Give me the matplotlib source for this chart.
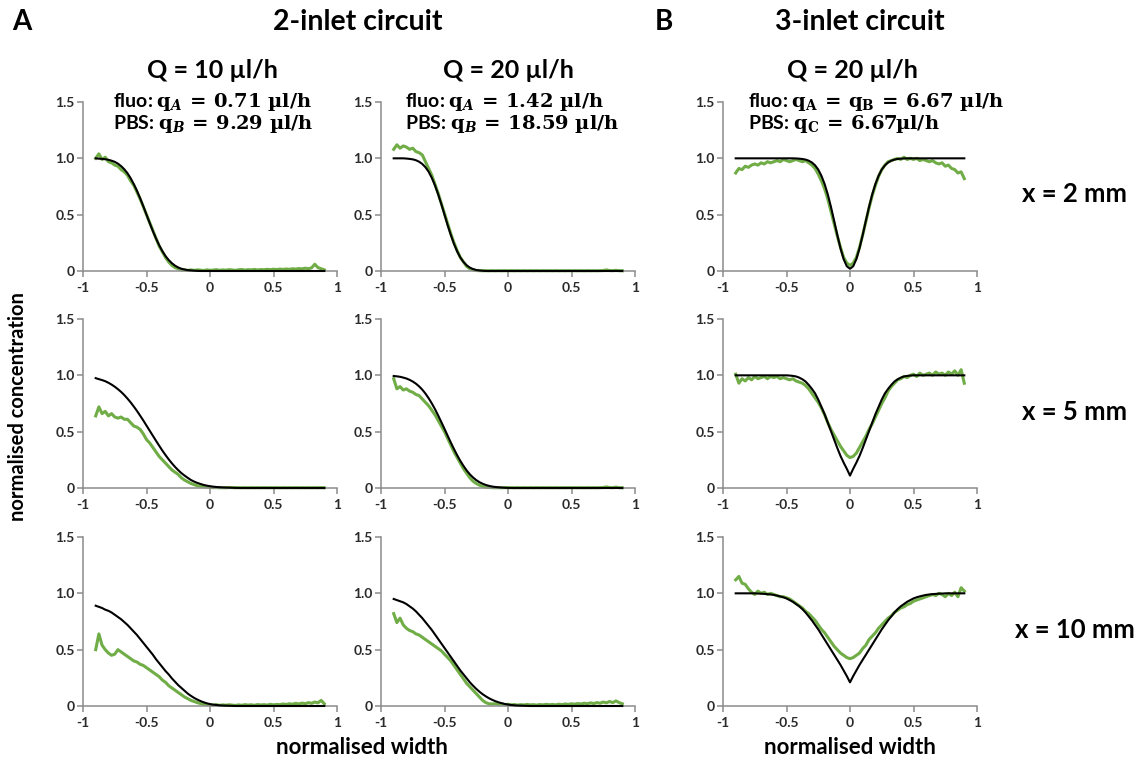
import matplotlib
matplotlib.use("Agg")
import matplotlib.pyplot as plt

plt.rcParams['font.family'] = ['Lato', 'DejaVu Sans']
plt.rcParams['mathtext.fontset'] = 'custom'
plt.rcParams['mathtext.rm'] = 'DejaVu Serif:bold'
plt.rcParams['mathtext.it'] = 'DejaVu Serif:italic:bold'
plt.rcParams['mathtext.bf'] = 'DejaVu Serif:bold'

# ---------------- data ----------------
width = [-0.900, -0.875, -0.850, -0.825, -0.800, -0.775, -0.750, -0.725, -0.700, -0.675,
         -0.650, -0.625, -0.600, -0.575, -0.550, -0.525, -0.500, -0.475, -0.450, -0.425,
         -0.400, -0.375, -0.350, -0.325, -0.300, -0.275, -0.250, -0.225, -0.200, -0.175,
         -0.150, -0.125, -0.100, -0.075, -0.050, -0.025, 0.000, 0.025, 0.050, 0.075,
         0.100, 0.125, 0.150, 0.175, 0.200, 0.225, 0.250, 0.275, 0.300, 0.325,
         0.350, 0.375, 0.400, 0.425, 0.450, 0.475, 0.500, 0.525, 0.550, 0.575,
         0.600, 0.625, 0.650, 0.675, 0.700, 0.725, 0.750, 0.775, 0.800, 0.825,
         0.850, 0.875, 0.900]

# row 1 (x = 2 mm)
model_2in_q10_x2 = [1.000, 0.997, 0.995, 0.992, 0.987, 0.979, 0.969, 0.953, 0.931, 0.903,
                    0.868, 0.824, 0.771, 0.712, 0.645, 0.574, 0.500, 0.426, 0.355, 0.288,
                    0.229, 0.176, 0.132, 0.097, 0.069, 0.047, 0.031, 0.020, 0.013, 0.008,
                    0.005, 0.003, 0.001, 0, 0, 0, 0, 0, 0, 0,
                    0, 0, 0, 0, 0, 0, 0, 0, 0, 0,
                    0, 0, 0, 0, 0, 0, 0, 0, 0, 0,
                    0, 0, 0, 0, 0, 0, 0, 0, 0, 0,
                    0, 0, 0]
meas_2in_q10_x2 = [1.00, 1.04, 0.99, 1.01, 0.97, 0.96, 0.94, 0.93, 0.90, 0.88,
                   0.85, 0.80, 0.76, 0.70, 0.64, 0.57, 0.50, 0.43, 0.36, 0.29,
                   0.22, 0.17, 0.12, 0.08, 0.05, 0.03, 0.02, 0.01, 0.01, 0.005,
                   0.01, 0.005, 0.01, 0.008, 0.004, 0.01, 0.006, 0.008, 0.012, 0.006,
                   0.01, 0.007, 0.012, 0.009, 0.006, 0.011, 0.013, 0.008, 0.012, 0.01,
                   0.014, 0.009, 0.013, 0.011, 0.015, 0.012, 0.016, 0.013, 0.017, 0.014,
                   0.018, 0.015, 0.02, 0.017, 0.022, 0.019, 0.025, 0.02, 0.028, 0.06,
                   0.03, 0.02, 0.01]
model_2in_q20_x2 = [1.0, 1.0, 1.0, 1.0, 0.998, 0.995, 0.991, 0.983, 0.970, 0.950,
                    0.921, 0.881, 0.827, 0.760, 0.681, 0.594, 0.500, 0.406, 0.319, 0.240,
                    0.173, 0.119, 0.079, 0.050, 0.030, 0.017, 0.009, 0.005, 0.002, 0,
                    0, 0, 0, 0, 0, 0, 0, 0, 0, 0,
                    0, 0, 0, 0, 0, 0, 0, 0, 0, 0,
                    0, 0, 0, 0, 0, 0, 0, 0, 0, 0,
                    0, 0, 0, 0, 0, 0, 0, 0, 0, 0,
                    0, 0, 0]
meas_2in_q20_x2 = [1.08, 1.12, 1.09, 1.11, 1.10, 1.08, 1.09, 1.06, 1.05, 1.03,
                   0.97, 0.91, 0.85, 0.77, 0.69, 0.60, 0.51, 0.42, 0.33, 0.25,
                   0.18, 0.12, 0.08, 0.04, 0.02, 0.01, 0.004, 0.003, 0.002, 0.003,
                   0.002, 0.003, 0.002, 0.003, 0.002, 0.003, 0.002, 0.003, 0.002, 0.003,
                   0.002, 0.003, 0.002, 0.003, 0.002, 0.003, 0.002, 0.003, 0.002, 0.003,
                   0.002, 0.003, 0.002, 0.003, 0.002, 0.003, 0.002, 0.003, 0.002, 0.003,
                   0.002, 0.003, 0.002, 0.003, 0.002, 0.003, 0.004, 0.01, 0.004, 0.003,
                   0.006, 0.003, 0.002]
model_3in_q20_x2 = [1.0, 1.0, 1.0, 1.0, 1.0, 1.0, 1.0, 1.0, 1.0, 1.0,
                    1.0, 1.0, 1.0, 1.0, 1.0, 1.0, 1.0, 1.0, 1.0, 0.999,
                    0.997, 0.994, 0.989, 0.979, 0.963, 0.938, 0.900, 0.845, 0.772, 0.680,
                    0.569, 0.446, 0.320, 0.202, 0.105, 0.042, 0.020, 0.042, 0.105, 0.202,
                    0.320, 0.446, 0.569, 0.680, 0.772, 0.845, 0.900, 0.938, 0.963, 0.979,
                    0.989, 0.994, 0.997, 0.999, 1.0, 1.0, 1.0, 1.0, 1.0, 1.0,
                    1.0, 1.0, 1.0, 1.0, 1.0, 1.0, 1.0, 1.0, 1.0, 1.0,
                    1.0, 1.0, 1.0]
meas_3in_q20_x2 = [0.87, 0.91, 0.90, 0.93, 0.92, 0.94, 0.95, 0.94, 0.96, 0.95,
                   0.97, 0.96, 0.97, 0.98, 0.97, 0.99, 0.98, 0.97, 0.98, 0.99,
                   0.98, 0.97, 0.98, 0.96, 0.94, 0.91, 0.86, 0.80, 0.73, 0.64,
                   0.53, 0.42, 0.31, 0.21, 0.12, 0.07, 0.05, 0.07, 0.12, 0.21,
                   0.32, 0.44, 0.56, 0.67, 0.76, 0.84, 0.90, 0.94, 0.97, 0.98,
                   0.99, 1.00, 0.99, 1.01, 0.99, 1.00, 0.99, 1.00, 0.98, 0.99,
                   0.98, 0.97, 0.98, 0.96, 0.95, 0.96, 0.93, 0.94, 0.91, 0.90,
                   0.87, 0.88, 0.82]

# row 2 (x = 5 mm)
model_2in_q10_x5 = [0.975, 0.966, 0.958, 0.948, 0.934, 0.918, 0.899, 0.877, 0.853, 0.825,
                    0.794, 0.760, 0.723, 0.684, 0.642, 0.599, 0.554, 0.509, 0.464, 0.419,
                    0.375, 0.332, 0.292, 0.254, 0.219, 0.187, 0.158, 0.132, 0.110, 0.090,
                    0.071, 0.057, 0.045, 0.036, 0.027, 0.021, 0.016, 0.012, 0.009, 0.007,
                    0.005, 0.004, 0.003, 0.002, 0.001, 0, 0, 0, 0, 0,
                    0, 0, 0, 0, 0, 0, 0, 0, 0, 0,
                    0, 0, 0, 0, 0, 0, 0, 0, 0, 0,
                    0, 0, 0]
meas_2in_q10_x5 = [0.64, 0.72, 0.66, 0.68, 0.64, 0.66, 0.63, 0.62, 0.63, 0.61,
                   0.61, 0.58, 0.55, 0.54, 0.52, 0.48, 0.43, 0.40, 0.36, 0.32,
                   0.28, 0.25, 0.22, 0.19, 0.16, 0.14, 0.12, 0.09, 0.07, 0.055,
                   0.04, 0.03, 0.02, 0.015, 0.01, 0.008, 0.005, 0.003, 0.004, 0.002,
                   0.003, 0.002, 0.004, 0.003, 0.002, 0.003, 0.002, 0.003, 0.002, 0.003,
                   0.002, 0.003, 0.002, 0.003, 0.002, 0.003, 0.002, 0.003, 0.002, 0.003,
                   0.002, 0.003, 0.002, 0.003, 0.002, 0.003, 0.002, 0.003, 0.002, 0.003,
                   0.002, 0.003, 0.002]
model_2in_q20_x5 = [0.994, 0.991, 0.987, 0.980, 0.972, 0.960, 0.945, 0.926, 0.902, 0.873,
                    0.838, 0.797, 0.751, 0.700, 0.644, 0.585, 0.525, 0.463, 0.403, 0.345,
                    0.290, 0.240, 0.195, 0.155, 0.121, 0.093, 0.070, 0.052, 0.038, 0.027,
                    0.019, 0.013, 0.009, 0.006, 0.004, 0.002, 0.001, 0, 0, 0,
                    0, 0, 0, 0, 0, 0, 0, 0, 0, 0,
                    0, 0, 0, 0, 0, 0, 0, 0, 0, 0,
                    0, 0, 0, 0, 0, 0, 0, 0, 0, 0,
                    0, 0, 0]
meas_2in_q20_x5 = [0.97, 0.88, 0.90, 0.87, 0.88, 0.86, 0.85, 0.83, 0.82, 0.79,
                   0.76, 0.73, 0.69, 0.65, 0.60, 0.55, 0.50, 0.44, 0.38, 0.32,
                   0.27, 0.22, 0.17, 0.13, 0.09, 0.06, 0.04, 0.025, 0.015, 0.008,
                   0.005, 0.003, 0.002, 0.003, 0.002, 0.003, 0.002, 0.003, 0.002, 0.003,
                   0.002, 0.003, 0.002, 0.003, 0.002, 0.003, 0.002, 0.003, 0.002, 0.003,
                   0.002, 0.003, 0.002, 0.003, 0.002, 0.003, 0.002, 0.003, 0.002, 0.003,
                   0.002, 0.003, 0.002, 0.003, 0.002, 0.003, 0.004, 0.01, 0.004, 0.003,
                   0.008, 0.003, 0.002]
model_3in_q20_x5 = [1.0, 1.0, 1.0, 1.0, 1.0, 1.0, 1.0, 1.0, 1.0, 1.0,
                    1.0, 1.0, 1.0, 1.0, 1.0, 1.0, 1.0, 0.998, 0.995, 0.99,
                    0.98, 0.965, 0.945, 0.915, 0.88, 0.84, 0.785, 0.72, 0.655, 0.58,
                    0.505, 0.43, 0.355, 0.285, 0.225, 0.17, 0.11, 0.17, 0.225, 0.285,
                    0.355, 0.43, 0.505, 0.58, 0.655, 0.72, 0.785, 0.84, 0.88, 0.915,
                    0.945, 0.965, 0.98, 0.99, 0.995, 0.998, 1.0, 1.0, 1.0, 1.0,
                    1.0, 1.0, 1.0, 1.0, 1.0, 1.0, 1.0, 1.0, 1.0, 1.0,
                    1.0, 1.0, 1.0]
meas_3in_q20_x5 = [1.01, 0.93, 0.97, 0.95, 0.98, 0.96, 0.99, 0.97, 0.98, 0.99,
                   0.97, 0.99, 0.98, 0.99, 0.97, 0.98, 0.97, 0.96, 0.97, 0.95,
                   0.94, 0.93, 0.91, 0.88, 0.84, 0.80, 0.76, 0.71, 0.65, 0.58,
                   0.52, 0.47, 0.42, 0.37, 0.33, 0.29, 0.27, 0.28, 0.31, 0.36,
                   0.41, 0.46, 0.52, 0.57, 0.63, 0.69, 0.75, 0.80, 0.86, 0.90,
                   0.93, 0.96, 0.97, 0.99, 0.98, 1.00, 1.01, 0.99, 1.02, 1.00,
                   1.01, 1.02, 1.00, 1.03, 1.01, 1.02, 1.00, 1.03, 1.01, 1.04,
                   1.00, 1.05, 0.93]

# row 3 (x = 10 mm)
model_2in_q10_x10 = [0.89, 0.88, 0.87, 0.855, 0.845, 0.83, 0.81, 0.79, 0.77, 0.745,
                     0.72, 0.69, 0.66, 0.63, 0.595, 0.56, 0.525, 0.49, 0.455, 0.415,
                     0.38, 0.345, 0.31, 0.28, 0.245, 0.215, 0.185, 0.16, 0.135, 0.11,
                     0.09, 0.072, 0.057, 0.044, 0.033, 0.024, 0.017, 0.012, 0.009, 0.006,
                     0.004, 0.003, 0.002, 0.001, 0, 0, 0, 0, 0, 0,
                     0, 0, 0, 0, 0, 0, 0, 0, 0, 0,
                     0, 0, 0, 0, 0, 0, 0, 0, 0, 0,
                     0, 0, 0]
meas_2in_q10_x10 = [0.50, 0.64, 0.54, 0.50, 0.47, 0.45, 0.46, 0.50, 0.48, 0.46,
                    0.44, 0.42, 0.40, 0.39, 0.37, 0.36, 0.34, 0.32, 0.30, 0.28,
                    0.26, 0.23, 0.21, 0.18, 0.16, 0.14, 0.12, 0.10, 0.08, 0.065,
                    0.05, 0.04, 0.03, 0.022, 0.015, 0.012, 0.01, 0.008, 0.012, 0.006,
                    0.01, 0.007, 0.011, 0.008, 0.005, 0.01, 0.006, 0.012, 0.008, 0.011,
                    0.006, 0.013, 0.009, 0.012, 0.008, 0.015, 0.01, 0.014, 0.012, 0.018,
                    0.014, 0.02, 0.016, 0.024, 0.018, 0.026, 0.02, 0.03, 0.024, 0.035,
                    0.028, 0.05, 0.02]
model_2in_q20_x10 = [0.95, 0.94, 0.93, 0.92, 0.905, 0.885, 0.865, 0.84, 0.81, 0.78,
                     0.745, 0.71, 0.675, 0.635, 0.595, 0.555, 0.515, 0.475, 0.435, 0.395,
                     0.355, 0.315, 0.28, 0.245, 0.21, 0.18, 0.152, 0.127, 0.105, 0.086,
                     0.069, 0.055, 0.043, 0.033, 0.025, 0.018, 0.013, 0.009, 0.006, 0.004,
                     0.003, 0.002, 0.001, 0, 0, 0, 0, 0, 0, 0,
                     0, 0, 0, 0, 0, 0, 0, 0, 0, 0,
                     0, 0, 0, 0, 0, 0, 0, 0, 0, 0,
                     0, 0, 0]
meas_2in_q20_x10 = [0.82, 0.74, 0.78, 0.72, 0.69, 0.67, 0.66, 0.64, 0.63, 0.61,
                    0.59, 0.57, 0.55, 0.53, 0.51, 0.49, 0.46, 0.43, 0.40, 0.36,
                    0.32, 0.28, 0.24, 0.20, 0.17, 0.14, 0.11, 0.08, 0.05, 0.03,
                    0.02, 0.018, 0.02, 0.015, 0.018, 0.012, 0.015, 0.01, 0.013, 0.008,
                    0.012, 0.009, 0.014, 0.01, 0.012, 0.008, 0.013, 0.01, 0.015, 0.011,
                    0.014, 0.01, 0.016, 0.012, 0.018, 0.014, 0.02, 0.016, 0.022, 0.018,
                    0.025, 0.02, 0.028, 0.022, 0.03, 0.025, 0.035, 0.028, 0.04, 0.03,
                    0.045, 0.03, 0.02]
model_3in_q20_x10 = [1.0, 1.0, 1.0, 1.0, 1.0, 1.0, 1.0, 0.998, 0.997, 0.995,
                     0.993, 0.99, 0.986, 0.98, 0.973, 0.965, 0.955, 0.94, 0.925, 0.905,
                     0.885, 0.86, 0.83, 0.795, 0.76, 0.72, 0.68, 0.635, 0.59, 0.545,
                     0.50, 0.455, 0.41, 0.365, 0.315, 0.265, 0.21, 0.265, 0.315, 0.365,
                     0.41, 0.455, 0.50, 0.545, 0.59, 0.635, 0.68, 0.72, 0.76, 0.795,
                     0.83, 0.86, 0.885, 0.905, 0.925, 0.94, 0.955, 0.965, 0.973, 0.98,
                     0.986, 0.99, 0.993, 0.995, 0.997, 0.998, 1.0, 1.0, 1.0, 1.0,
                     1.0, 1.0, 1.0]
meas_3in_q20_x10 = [1.12, 1.15, 1.09, 1.08, 1.04, 1.01, 0.99, 1.02, 1.00, 1.01,
                    0.99, 1.00, 0.99, 0.98, 0.97, 0.97, 0.96, 0.95, 0.93, 0.91,
                    0.89, 0.87, 0.84, 0.82, 0.79, 0.76, 0.72, 0.68, 0.65, 0.61,
                    0.57, 0.53, 0.50, 0.47, 0.45, 0.43, 0.42, 0.43, 0.45, 0.47,
                    0.51, 0.54, 0.59, 0.62, 0.65, 0.69, 0.72, 0.75, 0.78, 0.80,
                    0.83, 0.85, 0.87, 0.88, 0.90, 0.91, 0.93, 0.94, 0.95, 0.96,
                    0.97, 0.98, 0.99, 0.98, 1.00, 0.99, 0.97, 1.00, 0.98, 1.01,
                    0.97, 1.05, 1.02]

x_ticks = [-1, -0.5, 0, 0.5, 1]
x_tick_labels = ['-1', '-0.5', '0', '0.5', '1']
y_ticks = [0, 0.5, 1.0, 1.5]
y_tick_labels = ['0', '0.5', '1.0', '1.5']

models = [[model_2in_q10_x2, model_2in_q20_x2, model_3in_q20_x2],
          [model_2in_q10_x5, model_2in_q20_x5, model_3in_q20_x5],
          [model_2in_q10_x10, model_2in_q20_x10, model_3in_q20_x10]]
measured = [[meas_2in_q10_x2, meas_2in_q20_x2, meas_3in_q20_x2],
            [meas_2in_q10_x5, meas_2in_q20_x5, meas_3in_q20_x5],
            [meas_2in_q10_x10, meas_2in_q20_x10, meas_3in_q20_x10]]

row_labels = ['x = 2 mm', 'x = 5 mm', 'x = 10 mm']
col_titles = ['Q = 10 µl/h', 'Q = 20 µl/h', 'Q = 20 µl/h']
flow_line1 = [r'fluo: $\mathrm{q}_{A}\,=\,\mathrm{0.71\ µl/h}$',
              r'fluo: $\mathrm{q}_{A}\,=\,\mathrm{1.42\ µl/h}$',
              r'fluo: $\mathrm{q_{A}}\,=\,\mathrm{q_{B}}\,=\,\mathrm{6.67\ µl/h}$']
flow_line2 = [r'PBS: $\mathrm{q}_{B}\,=\,\mathrm{9.29\ µl/h}$',
              r'PBS: $\mathrm{q}_{B}\,=\,\mathrm{18.59\ µl/h}$',
              r'PBS: $\mathrm{q_{C}}\,=\,\mathrm{6.67µl/h}$']

# ---------------- layout ----------------
W, H = 1141, 762
fig = plt.figure(figsize=(W / 100, H / 100), dpi=100)
fig.patch.set_facecolor('white')

col_left = [83, 381, 723]
col_width = 254
row_top = [102, 319, 537]
row_height = 169

GREEN = '#70ad47'
GRAY = '#8c8c8c'


def fx(px):
    return px / W


def fy(py):
    return 1 - py / H


for r in range(3):
    for c in range(3):
        ax = fig.add_axes([fx(col_left[c]), fy(row_top[r] + row_height),
                           col_width / W, row_height / H])
        ax.plot(width, measured[r][c], color=GREEN, lw=2.2, zorder=2, clip_on=False)
        ax.plot(width, models[r][c], color='black', lw=1.5, zorder=3, clip_on=False)
        ax.set_xlim(-1, 1)
        ax.set_ylim(0, 1.5)
        ax.set_xticks(x_ticks)
        ax.set_xticklabels(x_tick_labels)
        ax.set_yticks(y_ticks)
        ax.set_yticklabels(y_tick_labels)
        for s in ['top', 'right']:
            ax.spines[s].set_visible(False)
        for s in ['left', 'bottom']:
            ax.spines[s].set_color(GRAY)
            ax.spines[s].set_linewidth(1.1)
        ax.tick_params(direction='out', length=4, width=1.1, color=GRAY,
                       labelsize=10, labelcolor='#2a2a2a')
        ax.tick_params(axis='x', pad=4)
        ax.tick_params(axis='y', pad=2)
        for lab in ax.get_xticklabels() + ax.get_yticklabels():
            lab.set_fontweight('bold')
        ax.patch.set_alpha(0)

# titles
fig.text(fx(12), fy(22), 'A', fontsize=20, fontweight='bold', ha='left', va='center')
fig.text(fx(655), fy(22), 'B', fontsize=20, fontweight='bold', ha='left', va='center')
fig.text(fx(358), fy(22), '2-inlet circuit', fontsize=20.5, fontweight='bold',
         ha='center', va='center')
fig.text(fx(860), fy(22), '3-inlet circuit', fontsize=20.5, fontweight='bold',
         ha='center', va='center')

col_title_x = [212, 508, 852]
for c in range(3):
    fig.text(fx(col_title_x[c]), fy(70), col_titles[c], fontsize=18, fontweight='bold',
             ha='center', va='center')

flow_x = [113, 405, 748]
for c in range(3):
    fig.text(fx(flow_x[c]), fy(102), flow_line1[c], fontsize=14, fontweight='bold',
             ha='left', va='center')
    fig.text(fx(flow_x[c]), fy(124), flow_line2[c], fontsize=14, fontweight='bold',
             ha='left', va='center')

row_label_y = [194, 412, 630]
for r in range(3):
    fig.text(fx(1075), fy(row_label_y[r]), row_labels[r], fontsize=18.5, fontweight='bold',
             ha='center', va='center')

fig.text(fx(18), fy(407), 'normalised concentration', fontsize=14.5, fontweight='bold',
         rotation=90, ha='center', va='center')
fig.text(fx(362), fy(748), 'normalised width', fontsize=16, fontweight='bold',
         ha='center', va='center')
fig.text(fx(850), fy(748), 'normalised width', fontsize=16, fontweight='bold',
         ha='center', va='center')

fig.savefig('out.png', dpi=100, facecolor='white')
